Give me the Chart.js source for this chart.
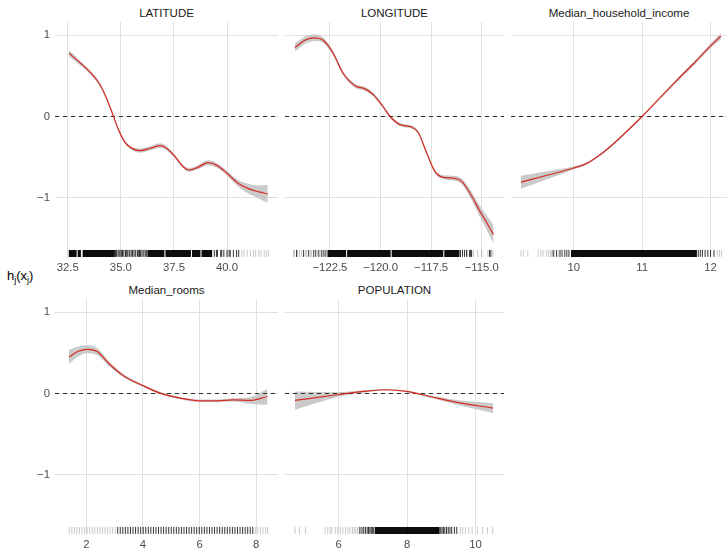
<!DOCTYPE html>
<html>
<head>
<meta charset="utf-8">
<script src="https://cdn.jsdelivr.net/npm/chart.js@4/dist/chart.umd.min.js"></script>
<style>
  html, body { margin: 0; padding: 0; background: #ffffff; }
  #wrap { position: relative; width: 727px; height: 549px; overflow: hidden;
          font-family: "Liberation Sans", Arial, Helvetica, sans-serif; }
  #wrap canvas { position: absolute; }
  .strip { position: absolute; height: 14px; line-height: 14px; font-size: 11.5px;
           color: #1a1a1a; text-align: center; white-space: nowrap; }
  .ylab { position: absolute; font-size: 13px; color: #000; line-height: 16px; white-space: nowrap; }
  .ylab sub { font-size: 9px; vertical-align: -3px; line-height: 0; }
</style>
</head>
<body>
<div id="wrap">
  <div class="ylab" style="left:7px; top:268px;">h<sub>j</sub>(x<sub>j</sub>)</div>
</div>
<script>
// ---------- partial effects: fitted curve and confidence band ----------
const latX   = [32.56, 33.0, 33.5, 34.0, 34.3, 34.6, 34.9, 35.2, 35.5, 35.9, 36.4, 36.85, 37.2, 37.6, 37.9, 38.2, 38.6, 39.1, 39.5, 40.0, 40.5, 41.0, 41.5, 41.92];
const latFit = [0.78, 0.68, 0.56, 0.40, 0.24, 0.04, -0.17, -0.32, -0.39, -0.42, -0.39, -0.36, -0.40, -0.51, -0.61, -0.66, -0.63, -0.57, -0.60, -0.70, -0.82, -0.89, -0.93, -0.955];
const latLo  = [0.74, 0.65, 0.535, 0.375, 0.22, 0.02, -0.19, -0.34, -0.41, -0.445, -0.415, -0.39, -0.425, -0.53, -0.63, -0.685, -0.655, -0.60, -0.63, -0.73, -0.86, -0.95, -1.01, -1.065];
const latHi  = [0.82, 0.71, 0.585, 0.425, 0.26, 0.06, -0.15, -0.30, -0.37, -0.395, -0.365, -0.33, -0.375, -0.49, -0.59, -0.635, -0.605, -0.54, -0.57, -0.67, -0.78, -0.83, -0.85, -0.845];

const lonX   = [-124.23, -123.74, -123.24, -122.83, -122.34, -121.84, -121.26, -120.77, -120.36, -119.87, -119.53, -119.04, -118.46, -118.13, -117.72, -117.31, -116.9, -116.41, -115.99, -115.5, -115.09, -114.75, -114.42];
const lonFit = [0.85, 0.94, 0.97, 0.94, 0.78, 0.53, 0.38, 0.34, 0.27, 0.12, 0.0, -0.10, -0.13, -0.20, -0.45, -0.68, -0.75, -0.76, -0.80, -0.98, -1.17, -1.31, -1.455];
const lonLo  = [0.80, 0.895, 0.93, 0.905, 0.75, 0.505, 0.355, 0.315, 0.245, 0.10, -0.02, -0.12, -0.15, -0.22, -0.47, -0.70, -0.775, -0.79, -0.835, -1.03, -1.24, -1.40, -1.57];
const lonHi  = [0.90, 0.985, 1.01, 0.975, 0.81, 0.555, 0.405, 0.365, 0.295, 0.14, 0.02, -0.08, -0.11, -0.18, -0.43, -0.66, -0.725, -0.73, -0.765, -0.93, -1.10, -1.22, -1.34];

const incX   = [9.23, 9.61, 10.0, 10.2, 10.39, 10.59, 10.78, 11.0, 11.25, 11.5, 11.75, 12.0, 12.15];
const incFit = [-0.81, -0.725, -0.635, -0.575, -0.47, -0.33, -0.18, 0.0, 0.22, 0.44, 0.65, 0.87, 0.99];
const incLo  = [-0.89, -0.775, -0.655, -0.59, -0.485, -0.345, -0.195, -0.015, 0.205, 0.42, 0.625, 0.84, 0.95];
const incHi  = [-0.73, -0.675, -0.615, -0.56, -0.455, -0.315, -0.165, 0.015, 0.235, 0.46, 0.675, 0.90, 1.03];

const roomX   = [1.39, 1.72, 2.04, 2.37, 2.84, 3.31, 4.01, 4.60, 5.31, 6.01, 6.6, 7.19, 7.78, 8.4];
const roomFit = [0.45, 0.52, 0.545, 0.52, 0.355, 0.22, 0.095, 0.005, -0.057, -0.09, -0.09, -0.078, -0.086, -0.037];
const roomLo  = [0.365, 0.46, 0.495, 0.475, 0.325, 0.20, 0.08, -0.01, -0.072, -0.105, -0.105, -0.098, -0.126, -0.14];
const roomHi  = [0.54, 0.58, 0.595, 0.565, 0.385, 0.24, 0.11, 0.02, -0.042, -0.075, -0.075, -0.058, -0.046, 0.054];

const popX   = [4.72, 5.94, 6.72, 7.40, 7.99, 8.67, 9.45, 10.51];
const popFit = [-0.086, -0.016, 0.025, 0.046, 0.025, -0.037, -0.11, -0.18];
const popLo  = [-0.20, -0.046, 0.01, 0.036, 0.015, -0.052, -0.14, -0.24];
const popHi  = [0.025, 0.014, 0.04, 0.056, 0.035, -0.022, -0.08, -0.12];

// ---------- observation rugs: solid runs, dark ticks, faint ticks ----------
const latRugRuns  = [[32.55, 32.92], [32.97, 33.12], [33.2, 34.72], [36.25, 37.05], [37.1, 38.3], [38.35, 38.75], [38.8, 39.3]];
const latRugDark  = [34.75, 34.8, 34.88, 34.95, 35.02, 35.08, 35.14, 35.22, 35.28, 35.33, 35.4, 35.48, 35.55, 35.62, 35.7, 35.78, 35.82, 35.88, 35.92, 36.0, 36.08, 36.15, 36.2, 39.4, 39.5, 39.55, 39.7, 39.75, 39.85, 40.0, 40.1, 40.15, 40.3, 40.45, 40.55];
const latRugFaint = [34.84, 34.99, 35.05, 35.25, 35.5, 35.66, 35.96, 40.7, 40.8, 40.95, 41.1, 41.25, 41.35, 41.5, 41.6, 41.75, 41.85, 41.95];

const lonRugRuns  = [[-122.62, -121.7], [-121.65, -119.5], [-119.45, -116.9], [-116.85, -116.1]];
const lonRugDark  = [-124.15, -123.8, -123.55, -123.3, -123.2, -123.05, -122.9, -122.8, -122.7, -116.05, -115.95, -115.85, -115.75, -115.6, -115.55, -115.5, -114.62, -114.55];
const lonRugFaint = [-124.3, -124.25, -124.1, -124.0, -123.9, -123.7, -123.65, -123.45, -123.4, -123.1, -122.95, -115.7, -115.4, -115.2, -115.0, -114.7, -114.45];

const incRugRuns  = [[9.96, 11.8]];
const incRugDark  = [9.7, 9.75, 9.8, 9.83, 9.87, 9.9, 9.93, 11.82, 11.85, 11.88, 11.92, 11.96, 12.0, 12.05];
const incRugFaint = [9.23, 9.27, 9.33, 9.48, 9.52, 9.55, 9.6, 9.63, 9.66, 9.68, 9.72, 9.78, 12.1, 12.13, 12.16];

const roomRugRuns  = [];
const roomRugDark  = [3.11, 3.20, 3.29, 3.38, 3.47, 3.56, 3.65, 3.74, 3.83, 3.92, 4.01, 4.10, 4.19, 4.28, 4.37, 4.46, 4.55, 4.64, 4.73, 4.82, 4.91, 5.00, 5.09, 5.18, 5.27, 5.36, 5.45, 5.54, 5.63, 5.72, 5.81, 5.90, 5.99, 6.08, 6.17, 6.26, 6.35, 6.44, 6.53, 6.62, 6.71, 6.80, 6.89, 6.98, 7.07, 7.16, 7.25, 7.34, 7.43, 7.52, 7.61, 7.70, 7.79, 7.88];
const roomRugFaint = [1.40, 1.49, 1.58, 1.67, 1.76, 1.85, 1.94, 2.03, 2.12, 2.21, 2.30, 2.39, 2.48, 2.57, 2.66, 2.75, 2.84, 2.93, 3.02, 7.97, 8.06, 8.15, 8.24, 8.33, 8.40];

const popRugRuns  = [[7.05, 8.95]];
const popRugDark  = [6.62, 6.68, 6.73, 6.78, 6.83, 6.87, 6.91, 6.95, 6.98, 7.01, 8.98, 9.02, 9.06, 9.1, 9.15, 9.2, 9.25, 9.3, 9.38, 9.45];
const popRugFaint = [4.72, 4.85, 5.03, 5.6, 5.68, 5.75, 5.8, 5.9, 5.97, 6.05, 6.12, 6.2, 6.27, 6.33, 6.4, 6.45, 6.5, 6.55, 6.6, 9.55, 9.62, 9.7, 9.8, 9.9, 10.05, 10.2, 10.35, 10.5];

// ---------- axis ticks ----------
const yTicks = [-1, 0, 1];
const yTickLabels = ['\u22121', '0', '1'];
const latTicks = [32.5, 35.0, 37.5, 40.0];
const latTickLabels = ['32.5', '35.0', '37.5', '40.0'];
const lonTicks = [-122.5, -120.0, -117.5, -115.0];
const lonTickLabels = ['\u2212122.5', '\u2212120.0', '\u2212117.5', '\u2212115.0'];
const incTicks = [10, 11, 12];
const incTickLabels = ['10', '11', '12'];
const roomTicks = [2, 4, 6, 8];
const roomTickLabels = ['2', '4', '6', '8'];
const popTicks = [6, 8, 10];
const popTickLabels = ['6', '8', '10'];

// ---------- drawing ----------
const FONT = '"Liberation Sans", Arial, Helvetica, sans-serif';
const Y_MIN = -1.745, Y_MAX = 1.165, RUG_Y = -1.688;
const wrap = document.getElementById('wrap');

function pts(xs, ys) { return xs.map((x, i) => ({ x: x, y: ys[i] })); }

// keep the plotting area fixed: no extra room reserved for tick label overhang
function noPadding(s) { s.paddingTop = 0; s.paddingBottom = 0; s.paddingLeft = 0; s.paddingRight = 0; }

function panel(cfg) {
  const axisW = cfg.yLabels ? cfg.left : 0;
  const axisH = 24;
  const w = cfg.width + axisW, h = cfg.height + axisH;
  const cv = document.createElement('canvas');
  cv.width = w; cv.height = h;
  cv.style.left = (cfg.left - axisW) + 'px';
  cv.style.top = cfg.top + 'px';
  cv.style.width = w + 'px'; cv.style.height = h + 'px';
  wrap.appendChild(cv);

  const strip = document.createElement('div');
  strip.className = 'strip';
  strip.textContent = cfg.title;
  strip.style.left = cfg.left + 'px';
  strip.style.width = cfg.width + 'px';
  strip.style.top = (cfg.top - 16) + 'px';
  wrap.appendChild(strip);

  const runs = [];
  cfg.rugRuns.forEach(r => { runs.push({ x: r[0], y: RUG_Y }, { x: r[1], y: RUG_Y }, { x: r[1], y: null }); });

  const datasets = [
    { label: 'fit', data: pts(cfg.x, cfg.fit), borderColor: '#d42a22', borderWidth: 1.2,
      pointRadius: 0, fill: false, cubicInterpolationMode: 'monotone' },
    { label: 'zero', data: [{ x: cfg.xMin, y: 0 }, { x: cfg.xMax, y: 0 }], borderColor: '#2b2b2b',
      borderWidth: 1, borderDash: [4, 4], pointRadius: 0, fill: false, tension: 0 },
    { label: 'upper', data: pts(cfg.x, cfg.hi), borderWidth: 0, borderColor: 'rgba(0,0,0,0)',
      backgroundColor: '#cacaca', pointRadius: 0, fill: '+1', cubicInterpolationMode: 'monotone' },
    { label: 'lower', data: pts(cfg.x, cfg.lo), borderWidth: 0, borderColor: 'rgba(0,0,0,0)',
      pointRadius: 0, fill: false, cubicInterpolationMode: 'monotone' },
    { label: 'rugRuns', data: runs, borderColor: 'rgba(0,0,0,0.95)', borderWidth: 7,
      borderCapStyle: 'butt', pointRadius: 0, fill: false, tension: 0, spanGaps: false },
    { label: 'rugDark', data: cfg.rugDark.map(v => ({ x: v, y: RUG_Y })), showLine: false,
      pointStyle: 'line', pointRotation: 90, pointRadius: 3.5, pointBorderWidth: 1,
      pointBorderColor: 'rgba(0,0,0,0.8)', pointBackgroundColor: 'rgba(0,0,0,0)' },
    { label: 'rugFaint', data: cfg.rugFaint.map(v => ({ x: v, y: RUG_Y })), showLine: false,
      pointStyle: 'line', pointRotation: 90, pointRadius: 3.5, pointBorderWidth: 1,
      pointBorderColor: 'rgba(0,0,0,0.22)', pointBackgroundColor: 'rgba(0,0,0,0)' }
  ];

  new Chart(cv, {
    type: 'line',
    data: { datasets: datasets },
    options: {
      responsive: false, animation: false, devicePixelRatio: 1,
      events: [],
      layout: { padding: 0, autoPadding: false },
      plugins: { legend: { display: false }, tooltip: { enabled: false }, title: { display: false } },
      scales: {
        x: {
          type: 'linear', position: 'bottom', min: cfg.xMin, max: cfg.xMax,
          afterBuildTicks: s => { s.ticks = cfg.xTicks.map(v => ({ value: v })); },
          afterFit: s => { s.height = axisH; noPadding(s); },
          grid: { color: '#e0e0e0', lineWidth: 1, drawTicks: false },
          border: { display: false },
          ticks: { autoSkip: false, maxRotation: 0, minRotation: 0, padding: 3, color: '#4d4d4d',
                   font: { family: FONT, size: 11.3 },
                   callback: (v, i) => cfg.xLabels[i] }
        },
        y: {
          type: 'linear', position: 'left', min: Y_MIN, max: Y_MAX,
          afterBuildTicks: s => { s.ticks = yTicks.map(v => ({ value: v })); },
          afterFit: s => { s.width = axisW; noPadding(s); },
          grid: { color: '#e0e0e0', lineWidth: 1, drawTicks: false },
          border: { display: false },
          ticks: { display: !!cfg.yLabels, padding: 5, color: '#4d4d4d',
                   font: { family: FONT, size: 11.3 },
                   callback: (v, i) => yTickLabels[i] }
        }
      }
    }
  });
}

panel({ title: 'LATITUDE', left: 55, top: 22, width: 223, height: 236, xMin: 31.90, xMax: 42.40,
        x: latX, fit: latFit, lo: latLo, hi: latHi, xTicks: latTicks, xLabels: latTickLabels, yLabels: true,
        rugRuns: latRugRuns, rugDark: latRugDark, rugFaint: latRugFaint });
panel({ title: 'LONGITUDE', left: 285, top: 22, width: 219, height: 236, xMin: -124.72, xMax: -113.90,
        x: lonX, fit: lonFit, lo: lonLo, hi: lonHi, xTicks: lonTicks, xLabels: lonTickLabels, yLabels: false,
        rugRuns: lonRugRuns, rugDark: lonRugDark, rugFaint: lonRugFaint });
panel({ title: 'Median_household_income', left: 511, top: 22, width: 216, height: 236, xMin: 9.084, xMax: 12.24,
        x: incX, fit: incFit, lo: incLo, hi: incHi, xTicks: incTicks, xLabels: incTickLabels, yLabels: false,
        rugRuns: incRugRuns, rugDark: incRugDark, rugFaint: incRugFaint });
panel({ title: 'Median_rooms', left: 55, top: 299, width: 223, height: 236, xMin: 0.895, xMax: 8.77,
        x: roomX, fit: roomFit, lo: roomLo, hi: roomHi, xTicks: roomTicks, xLabels: roomTickLabels, yLabels: true,
        rugRuns: roomRugRuns, rugDark: roomRugDark, rugFaint: roomRugFaint });
panel({ title: 'POPULATION', left: 285, top: 299, width: 219, height: 236, xMin: 4.43, xMax: 10.83,
        x: popX, fit: popFit, lo: popLo, hi: popHi, xTicks: popTicks, xLabels: popTickLabels, yLabels: false,
        rugRuns: popRugRuns, rugDark: popRugDark, rugFaint: popRugFaint });
</script>
</body>
</html>
